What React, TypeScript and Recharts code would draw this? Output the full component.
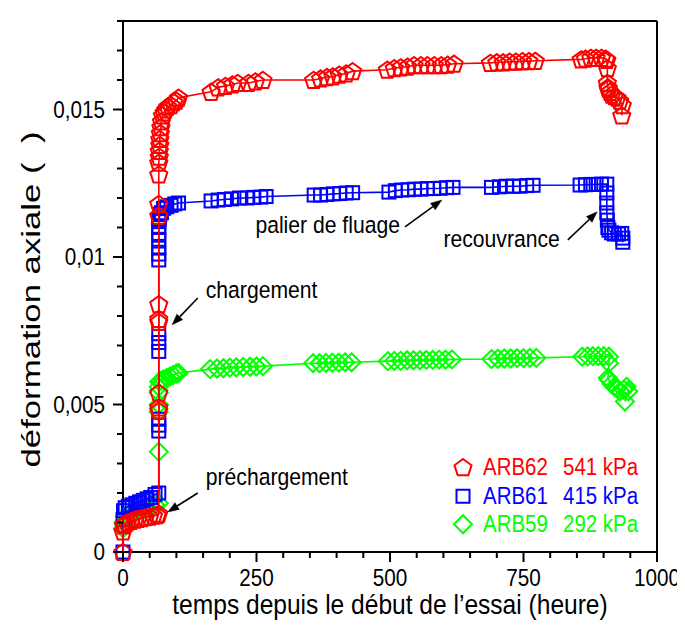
import React from 'react';
import { ScatterChart, Scatter, XAxis, YAxis, ReferenceLine, Legend, Label } from 'recharts';

const FONT = '"Liberation Sans", Arial, Helvetica, sans-serif';

// ---------- data ----------
const seriesNames = ['ARB62', 'ARB61', 'ARB59'];
const seriesPressures = ['541 kPa', '415 kPa', '292 kPa'];
const seriesColors = ['#ff0000', '#0000ff', '#00ff00'];

// ARB62 (541 kPa)
const arb62Time = [
  0, 0, 1, 3, 8, 15, 22, 28, 35, 42, 50, 57, 64, 67,
  67, 67, 67, 67, 67, 67, 67, 67, 67, 67,
  68, 68, 69, 69, 70, 71, 72, 74, 77, 80, 84, 90, 95, 100, 104,
  165, 178, 192, 205, 215, 235, 248, 262,
  357, 370, 382, 393, 405, 418, 430,
  495, 508, 520, 533, 545, 558, 570, 583, 596, 608, 620,
  688, 700, 712, 724, 736, 748, 760, 772,
  858, 866, 876, 886, 896, 904, 906,
  907, 907, 908, 909, 912, 915, 920, 925, 930, 935, 934,
];
const arb62Strain = [
  0, 0.0007, 0.0009, 0.00095, 0.001, 0.00105, 0.0011, 0.00112, 0.00115, 0.00118, 0.0012, 0.00123, 0.00125, 0.0013,
  0.0048, 0.0049, 0.0054, 0.0078, 0.0079, 0.0084, 0.0114, 0.0118, 0.0128, 0.0132,
  0.0134, 0.0136, 0.0138, 0.014, 0.0142, 0.0144, 0.0146, 0.0148, 0.0149, 0.015, 0.0151, 0.01515, 0.01525, 0.0153, 0.0154,
  0.0156, 0.01575, 0.0158, 0.01585, 0.0159, 0.0159, 0.01595, 0.016,
  0.016, 0.01605, 0.0161, 0.01612, 0.01618, 0.01622, 0.0163,
  0.01635, 0.0164, 0.01643, 0.01645, 0.0165, 0.0165, 0.0165, 0.0165, 0.0165, 0.01652, 0.01655,
  0.01658, 0.0166, 0.0166, 0.01662, 0.01662, 0.01664, 0.01664, 0.01665,
  0.0167, 0.01672, 0.01675, 0.01675, 0.01675, 0.01672, 0.01668,
  0.0164, 0.0159, 0.01575, 0.0157, 0.0156, 0.0155, 0.01545, 0.0154, 0.0153, 0.01515, 0.0148,
];

// ARB61 (415 kPa)
const arb61Time = [
  0, 0, 1, 4, 10, 17, 24, 31, 38, 45, 52, 60, 67,
  67, 67, 67, 67, 67, 67, 67, 67, 67, 67, 67, 67, 67,
  68, 69, 72, 76, 82, 90, 97, 104,
  165, 178, 190, 203, 218, 232, 245, 258, 268,
  358, 370, 382, 394, 406, 418, 430,
  498, 510, 522, 534, 546, 558, 570, 582, 594, 606, 618,
  690, 705, 718, 731, 743, 756, 768,
  856, 866, 876, 886, 896, 906,
  906, 906, 906, 907, 908, 910, 915, 920, 928, 934, 936, 936,
];
const arb61Strain = [
  0, 0.0011, 0.0014, 0.0015, 0.00155, 0.0016, 0.00165, 0.0017, 0.00175, 0.0018, 0.00185, 0.00195, 0.002,
  0.0041, 0.0043, 0.0045, 0.0068, 0.0071, 0.0074, 0.0099, 0.0101, 0.0103, 0.0106, 0.0108, 0.011, 0.0112,
  0.0113, 0.01145, 0.0115, 0.01165, 0.0117, 0.01175, 0.0118, 0.01183,
  0.0119, 0.01193, 0.01195, 0.01197, 0.012, 0.012, 0.01202, 0.01203, 0.01205,
  0.0121, 0.0121, 0.01212, 0.01214, 0.01215, 0.01217, 0.01218,
  0.0122, 0.01225, 0.01227, 0.01228, 0.0123, 0.0123, 0.01232, 0.01232, 0.01233, 0.01235, 0.01236,
  0.01236, 0.01238, 0.0124, 0.0124, 0.0124, 0.01242, 0.01243,
  0.01244, 0.01245, 0.01246, 0.01246, 0.01247, 0.01247,
  0.01217, 0.01183, 0.0115, 0.01125, 0.011, 0.01091, 0.01082, 0.01078, 0.01078, 0.0108, 0.01064, 0.0105,
];

// ARB59 (292 kPa)
const arb59Time = [
  0, 1, 4, 10, 17, 24, 31, 38, 45, 52, 60, 67,
  67, 67, 67, 67, 67,
  68, 70, 75, 82, 88, 94, 100, 104,
  163, 176, 188, 200, 212, 225, 238, 250, 262,
  356, 368, 380, 392, 404, 416, 428,
  496, 508, 520, 532, 544, 556, 568, 580, 592, 604, 616,
  690, 702, 714, 726, 738, 750, 762, 774,
  860, 870, 880, 890, 900, 910,
  910, 908, 910, 915, 920, 925, 931, 938, 943, 946, 940,
];
const arb59Strain = [
  0.0008, 0.001, 0.0012, 0.00125, 0.0013, 0.00135, 0.0014, 0.00145, 0.0015, 0.00155, 0.0016, 0.00165,
  0.0034, 0.00475, 0.005, 0.0054, 0.0056,
  0.00577, 0.0058, 0.00585, 0.0059, 0.00595, 0.006, 0.00605, 0.00607,
  0.0062, 0.00622, 0.00623, 0.00625, 0.00626, 0.00627, 0.00628, 0.00629, 0.0063,
  0.0064, 0.0064, 0.00641, 0.00642, 0.00642, 0.00643, 0.00643,
  0.00647, 0.00648, 0.00648, 0.0065, 0.0065, 0.0065, 0.00651, 0.00651, 0.00652, 0.00652, 0.00653,
  0.00654, 0.00655, 0.00656, 0.00656, 0.00657, 0.00657, 0.00658, 0.00658,
  0.00662, 0.00663, 0.00664, 0.00664, 0.00664, 0.00662,
  0.0064, 0.0059, 0.00583, 0.0057, 0.0056, 0.00555, 0.00545, 0.0055, 0.0056, 0.00545, 0.0051,
];

const xTicks = [0, 50, 100, 150, 200, 250, 300, 350, 400, 450, 500, 550, 600, 650, 700, 750, 800, 850, 900, 950, 1000];
const yTicks = [0, 0.001, 0.002, 0.003, 0.004, 0.005, 0.006, 0.007, 0.008, 0.009, 0.01, 0.011, 0.012, 0.013, 0.014, 0.015, 0.016, 0.017, 0.018];

const xTitle = 'temps depuis le début de l’essai (heure)';
const yTitle = 'déformation axiale (  )';

// annotations: text, arrow tail (t, strain), arrow tip (t, strain)
const annotationTexts = ['chargement', 'préchargement', 'palier de fluage', 'recouvrance'];
const annotationTails = [[140, 0.00861], [140, 0.002], [528, 0.01102], [833, 0.01058]];
const annotationTips = [[92, 0.0077], [84, 0.00136], [597, 0.01193], [888, 0.01153]];
const annotationTextStyle = [
  { dx: 8, dy: 0, anchor: 'start' },
  { dx: 8, dy: -8, anchor: 'start' },
  { dx: -5, dy: 6, anchor: 'end' },
  { dx: -8, dy: 7, anchor: 'end' },
];

const toPoints = (ts: number[], vs: number[]) => ts.map((t, i) => ({ t, v: vs[i] }));
const seriesData = [
  toPoints(arb62Time, arb62Strain),
  toPoints(arb61Time, arb61Strain),
  toPoints(arb59Time, arb59Strain),
];

// ---------- shapes ----------
function Marker({ kind, cx, cy, color }: any) {
  if (cx == null || cy == null) return null;
  if (kind === 0) {
    const r = 9;
    const pts = [0, 1, 2, 3, 4]
      .map((k) => {
        const a = -Math.PI / 2 + (k * 2 * Math.PI) / 5;
        return `${cx + r * Math.cos(a)},${cy + r * Math.sin(a) + 0.8}`;
      })
      .join(' ');
    return <polygon points={pts} fill="none" stroke={color} strokeWidth={2} />;
  }
  if (kind === 1) {
    const h = 6.5;
    return <rect x={cx - h} y={cy - h} width={2 * h} height={2 * h} fill="none" stroke={color} strokeWidth={2} />;
  }
  const d = 9;
  return (
    <polygon
      points={`${cx},${cy - d} ${cx + d},${cy} ${cx},${cy + d} ${cx - d},${cy}`}
      fill="none"
      stroke={color}
      strokeWidth={2}
    />
  );
}

// condensed text (reference uses a narrow sans)
function CText({ x, y, size, sx = 0.9, anchor = 'start', fill = '#000', children }: any) {
  return (
    <text
      transform={`translate(${x} ${y}) scale(${sx} 1)`}
      x={0}
      y={0}
      textAnchor={anchor}
      fontSize={size}
      fontFamily={FONT}
      fill={fill}
    >
      {children}
    </text>
  );
}

const isMajorX = (v: number) => v % 250 === 0;
const isMajorY = (v: number) => Math.round(v * 1000) % 5 === 0;
const fmtY = (v: number) => String(v).replace('.', ',');

function BottomTick({ x, y, payload }: any) {
  const v = payload.value;
  const major = isMajorX(v);
  return (
    <g>
      <line x1={x} x2={x} y1={y} y2={y + (major ? 10 : 6)} stroke="#000" strokeWidth={2} />
      {major && (
        <CText x={x} y={y + 34} size={23} sx={0.9} anchor="middle">
          {v}
        </CText>
      )}
    </g>
  );
}
function TopTick({ x, y, payload }: any) {
  const major = isMajorX(payload.value);
  return <line x1={x} x2={x} y1={y} y2={y - (major ? 10 : 6)} stroke="#000" strokeWidth={2} />;
}
function LeftTick({ x, y, payload }: any) {
  const v = payload.value;
  const major = isMajorY(v);
  return (
    <g>
      <line x1={x} x2={x - (major ? 10 : 6)} y1={y} y2={y} stroke="#000" strokeWidth={2} />
      {major && (
        <CText x={x - 18} y={y + 8.3} size={23} sx={0.9} anchor="end">
          {fmtY(v)}
        </CText>
      )}
    </g>
  );
}
function RightTick({ x, y, payload }: any) {
  const major = isMajorY(payload.value);
  return <line x1={x} x2={x + (major ? 10 : 6)} y1={y} y2={y} stroke="#000" strokeWidth={2} />;
}

function Arrow({ x1, y1, x2, y2, text, style }: any) {
  if ([x1, y1, x2, y2].some((n) => n == null || isNaN(n))) return null;
  const dx = x2 - x1;
  const dy = y2 - y1;
  const len = Math.sqrt(dx * dx + dy * dy) || 1;
  const ux = dx / len;
  const uy = dy / len;
  const hl = 11;
  const hw = 4;
  const bx = x2 - ux * hl;
  const by = y2 - uy * hl;
  const head = `${x2},${y2} ${bx - uy * hw},${by + ux * hw} ${bx + uy * hw},${by - ux * hw}`;
  return (
    <g>
      <line x1={x1} y1={y1} x2={bx} y2={by} stroke="#000" strokeWidth={1.6} />
      <polygon points={head} fill="#000" stroke="#000" strokeWidth={0.5} />
      <CText x={x1 + style.dx} y={y1 + style.dy} size={23.5} sx={0.9} anchor={style.anchor}>
        {text}
      </CText>
    </g>
  );
}

function LegendBox() {
  const spanStyle: React.CSSProperties = {
    position: 'absolute',
    top: 0,
    lineHeight: '28.5px',
    whiteSpace: 'nowrap',
    transform: 'scaleX(0.89)',
    transformOrigin: 'left center',
  };
  return (
    <div style={{ fontFamily: FONT, fontSize: 23 }}>
      {seriesNames.map((name, i) => (
        <div key={name} style={{ position: 'relative', height: 28.5, width: 220 }}>
          <svg width={20} height={28.5} style={{ position: 'absolute', left: 0, top: 0, overflow: 'visible' }}>
            <Marker kind={i} cx={10} cy={14.25} color={seriesColors[i]} />
          </svg>
          <span style={{ ...spanStyle, left: 30, color: seriesColors[i] }}>{name}</span>
          <span style={{ ...spanStyle, left: 110, color: seriesColors[i] }}>{seriesPressures[i]}</span>
        </div>
      ))}
    </div>
  );
}

export default function App() {
  return (
    <ScatterChart width={677} height={622} margin={{ top: 0, right: 8, bottom: 38, left: 55 }}>
      <XAxis
        type="number"
        dataKey="t"
        domain={[0, 1000]}
        ticks={xTicks}
        interval={0}
        tick={(p: any) => <BottomTick {...p} />}
        tickLine={false}
        tickSize={0}
        tickMargin={0}
        axisLine={{ stroke: '#000', strokeWidth: 2 }}
        height={40}
      >
        <Label
          content={(p: any) => {
            const vb = p.viewBox || { x: 115, y: 544, width: 534 };
            return (
              <CText x={vb.x + vb.width / 2} y={vb.y + 62} size={27} sx={0.91} anchor="middle">
                {xTitle}
              </CText>
            );
          }}
        />
      </XAxis>
      <XAxis
        xAxisId="top"
        orientation="top"
        type="number"
        dataKey="t"
        domain={[0, 1000]}
        ticks={xTicks}
        interval={0}
        tick={(p: any) => <TopTick {...p} />}
        tickLine={false}
        tickSize={0}
        tickMargin={0}
        axisLine={{ stroke: '#000', strokeWidth: 2 }}
        height={13}
      />
      <YAxis
        type="number"
        dataKey="v"
        domain={[0, 0.018]}
        ticks={yTicks}
        interval={0}
        tick={(p: any) => <LeftTick {...p} />}
        tickLine={false}
        tickSize={0}
        tickMargin={0}
        axisLine={{ stroke: '#000', strokeWidth: 2 }}
        width={60}
      >
        <Label
          content={(p: any) => {
            const vb = p.viewBox || { x: 55, y: 13, width: 60, height: 531 };
            const cx = vb.x - 23;
            const cy = vb.y + vb.height / 2 + 13;
            return (
              <text
                x={cx}
                y={cy}
                transform={`rotate(-90 ${cx} ${cy})`}
                textAnchor="middle"
                fontSize={26}
                fontFamily={FONT}
                fill="#000"
                textLength={336}
                lengthAdjust="spacingAndGlyphs"
                style={{ whiteSpace: 'pre' }}
              >
                {yTitle}
              </text>
            );
          }}
        />
      </YAxis>
      <YAxis
        yAxisId="right"
        orientation="right"
        type="number"
        dataKey="v"
        domain={[0, 0.018]}
        ticks={yTicks}
        interval={0}
        tick={(p: any) => <RightTick {...p} />}
        tickLine={false}
        tickSize={0}
        tickMargin={0}
        axisLine={{ stroke: '#000', strokeWidth: 2 }}
        width={20}
      />
      {annotationTexts.map((txt, i) => (
        <ReferenceLine
          key={txt}
          segment={[
            { x: annotationTails[i][0], y: annotationTails[i][1] },
            { x: annotationTips[i][0], y: annotationTips[i][1] },
          ]}
          ifOverflow="visible"
          shape={(p: any) => <Arrow {...p} text={txt} style={annotationTextStyle[i]} />}
        />
      ))}
      {[2, 1, 0].map((i) => (
        <Scatter
          key={seriesNames[i]}
          name={seriesNames[i]}
          data={seriesData[i]}
          fill="none"
          stroke={seriesColors[i]}
          line={{ stroke: seriesColors[i], strokeWidth: 1.6 }}
          lineType="joint"
          isAnimationActive={false}
          shape={(p: any) => <Marker kind={i} cx={p.cx} cy={p.cy} color={seriesColors[i]} />}
        />
      ))}
      <Legend
        layout="vertical"
        align="center"
        verticalAlign="middle"
        wrapperStyle={{ left: 445, top: 445, width: 220, height: 86 }}
        content={() => <LegendBox />}
      />
    </ScatterChart>
  );
}
